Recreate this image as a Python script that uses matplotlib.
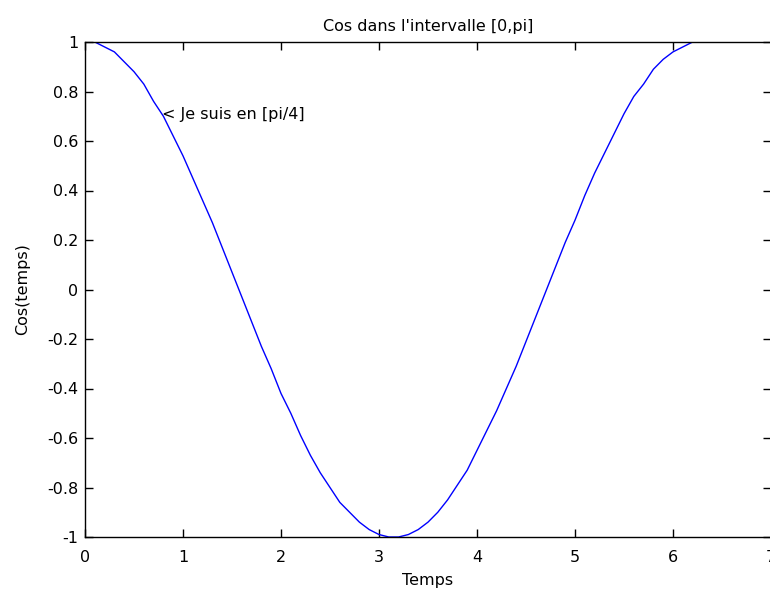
import matplotlib
matplotlib.use("Agg")
import matplotlib.pyplot as plt

# Valeurs (temps, cos(temps))
temps = [0.1, 0.2, 0.3, 0.4, 0.5, 0.6, 0.7, 0.8, 0.9, 1.0,
         1.1, 1.2, 1.3, 1.4, 1.5, 1.6, 1.7, 1.8, 1.9, 2.0,
         2.1, 2.2, 2.3, 2.4, 2.5, 2.6, 2.7, 2.8, 2.9, 3.0,
         3.1, 3.2, 3.3, 3.4, 3.5, 3.6, 3.7, 3.8, 3.9, 4.0,
         4.1, 4.2, 4.3, 4.4, 4.5, 4.6, 4.7, 4.8, 4.9, 5.0,
         5.1, 5.2, 5.3, 5.4, 5.5, 5.6, 5.7, 5.8, 5.9, 6.0,
         6.1, 6.2]
valeurs = [1.00, 0.98, 0.96, 0.92, 0.88, 0.83, 0.76, 0.70, 0.62, 0.54,
           0.45, 0.36, 0.27, 0.17, 0.07, -0.03, -0.13, -0.23, -0.32, -0.42,
           -0.50, -0.59, -0.67, -0.74, -0.80, -0.86, -0.90, -0.94, -0.97, -0.99,
           -1.00, -1.00, -0.99, -0.97, -0.94, -0.90, -0.85, -0.79, -0.73, -0.65,
           -0.57, -0.49, -0.40, -0.31, -0.21, -0.11, -0.01, 0.09, 0.19, 0.28,
           0.38, 0.47, 0.55, 0.63, 0.71, 0.78, 0.83, 0.89, 0.93, 0.96,
           0.98, 1.00]

annot_x = 0.785
annot_y = 0.707
x_ticks = [0, 1, 2, 3, 4, 5, 6, 7]
y_ticks = [-1, -0.8, -0.6, -0.4, -0.2, 0, 0.2, 0.4, 0.6, 0.8, 1]
y_labels = ['-1', '-0.8', '-0.6', '-0.4', '-0.2', '0', '0.2', '0.4', '0.6', '0.8', '1']

plt.rcParams['font.family'] = ['DejaVu Sans']
plt.rcParams['font.size'] = 11.5

fig = plt.figure(figsize=(7.7, 5.9), dpi=100)
# l'axe depasse a droite, comme sur l'original
ax = fig.add_axes([85 / 770, 1 - 537 / 590, 686 / 770, 495 / 590])

ax.plot(temps, valeurs, color='#0000ff', linewidth=1)
ax.text(annot_x, annot_y, '< Je suis en [pi/4]', va='center', ha='left', fontsize=11.5)

ax.set_xlim(0, 7)
ax.set_ylim(-1, 1)
ax.set_xticks(x_ticks)
ax.set_yticks(y_ticks)
ax.set_yticklabels(y_labels)
ax.tick_params(direction='in', top=True, right=True, length=6, width=1, labelsize=11.5)
ax.tick_params(axis='x', pad=9)
ax.tick_params(axis='y', pad=5)
for s in ax.spines.values():
    s.set_linewidth(1)

ax.set_title("Cos dans l'intervalle [0,pi]", fontsize=11.5, pad=8)
ax.set_xlabel('Temps', fontsize=11.5, labelpad=6)
ax.set_ylabel('Cos(temps)', fontsize=11.5, labelpad=12)

fig.savefig('out.png', dpi=100)
